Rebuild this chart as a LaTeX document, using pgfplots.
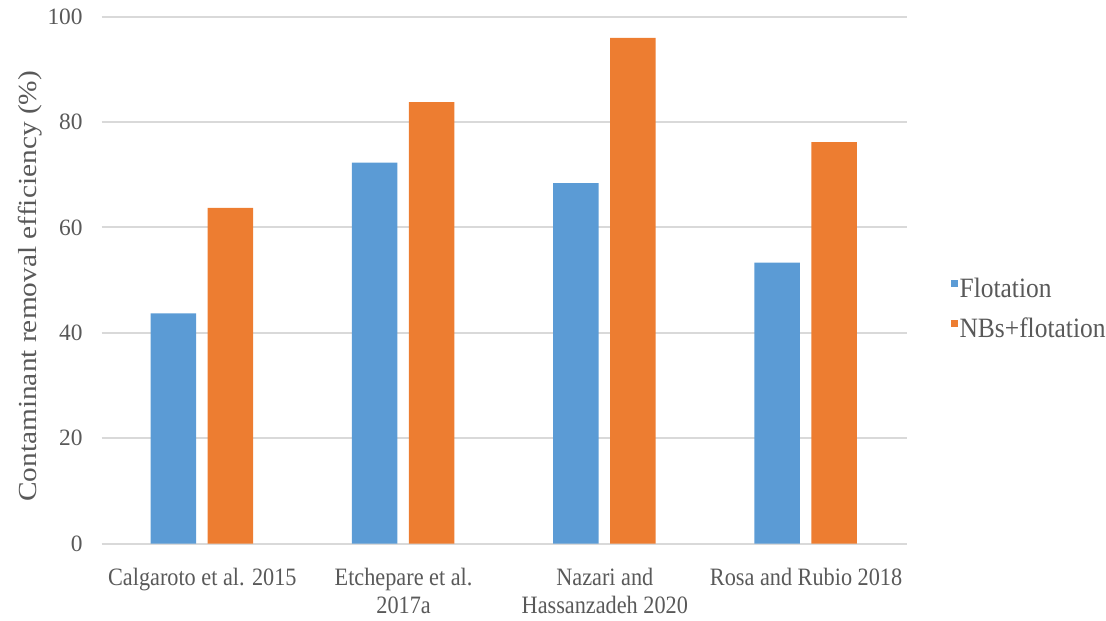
\documentclass[border=0pt]{standalone}
\usepackage{pgfplots}
\pgfplotsset{compat=1.18}
\usepackage{fontspec}
\setmainfont{Liberation Serif}
\newfontfamily\xlabfont[FakeStretch=0.89]{Liberation Serif}
\newfontfamily\ylabfont[FakeStretch=1.13]{Liberation Serif}
\newfontfamily\legfont[FakeStretch=0.91]{Liberation Serif}

\definecolor{flot}{HTML}{5B9BD5}
\definecolor{nbs}{HTML}{ED7D31}
\definecolor{gridc}{HTML}{D9D9D9}
\definecolor{txt}{HTML}{595959}

\begin{document}
\begin{tikzpicture}
\useasboundingbox (-50.85pt,-38.25pt) rectangle (502.15pt,271.75pt);
\begin{axis}[
  at={(0pt,0pt)}, anchor=south west,
  width=402.5pt, height=263.4pt, scale only axis,
  ymin=0, ymax=100, ytick={0,20,...,100},
  xmin=-0.5, xmax=3.5, xtick={0,1,2,3},
  xticklabels={Calgaroto et al. 2015, {Etchepare et al.\\2017a}, {Nazari and\\Hassanzadeh 2020}, Rosa and Rubio 2018},
  axis line style={draw=none},
  major tick length=0pt, tick style={draw=none},
  ymajorgrids, grid style={gridc, line width=1pt},
  /pgf/number format/assume math mode=true,
  yticklabel style={font=\fontsize{11.7}{13}\selectfont, text=txt, xshift=-6pt},
  xticklabel style={font=\xlabfont\fontsize{12.5}{14}\selectfont, text=txt, align=center, anchor=north, yshift=-9pt},
  ylabel={Contaminant removal efficiency (\%)},
  ylabel style={at={(rel axis cs:-0.089,0.488)}, anchor=center, font=\ylabfont\fontsize{13}{15}\selectfont, text=txt},
  legend style={at={(rel axis cs:1.0545,0.5103)}, anchor=north west, draw=none, fill=none,
    font=\legfont\fontsize{14}{16}\selectfont, text=txt, row sep=8pt, inner sep=0pt,
    nodes={inner sep=1pt, text height=10pt, text depth=0pt}},
  legend cell align=left,
  legend image code/.code={\fill[#1] (0pt,0.1pt) rectangle (3.3pt,3.4pt);},
]
\addplot[ybar, fill=flot, draw=none, bar width=22.75pt, bar shift=-14.5pt]
  coordinates {(0,43.7) (1,72.3) (2,68.4) (3,53.3)};
\addplot[ybar, fill=nbs, draw=none, bar width=22.75pt, bar shift=14pt]
  coordinates {(0,63.7) (1,83.8) (2,96.0) (3,76.2)};
\legend{Flotation, NBs+flotation}
\end{axis}
\end{tikzpicture}
\end{document}
